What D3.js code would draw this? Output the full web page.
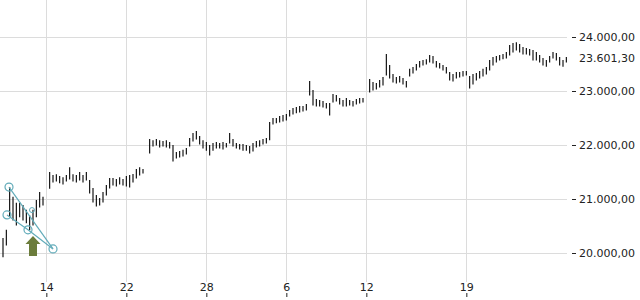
<!DOCTYPE html>
<html>
<head>
<meta charset="utf-8">
<script src="https://cdn.jsdelivr.net/npm/d3@7"></script>
<style>
  body { margin: 0; background: #fff; }
  #chart { width: 640px; height: 300px; }
  text { font-family: "DejaVu Sans", sans-serif; font-size: 11px; fill: #222; }
</style>
</head>
<body>
<div id="chart"></div>
<script>
// intraday bars, one per slot (null = no trading)
const lows = [
  19930, 20150, 20685, 20610, 20520, 20670, 20610, 20560, 20430, 20520, 20670, 20850, 20890, null,
  21200, 21315, 21335, 21300, 21280, 21335, 21370, 21335, 21315, 21350, 21315, 21350,
  21110, 20945, 20870, 20890, 20945, 21075, 21205, 21260, 21240, 21280, 21260, 21240, 21220, 21315, 21390, 21445, 21480, null,
  21850, 21980, 22000, 21965, 21980, 21965, 21945, 21705, 21760, 21780, 21795, 21835,
  21980, 22075, 22110, 22020, 21945, 21905, 21815, 21905, 21945, 21945, 21925, 21965, 22035, 21980, 21945, 21925, 21905, 21905, 21850, 21890, 21965, 21980, 22020, 22035, 22095,
  22390, 22410, 22425, 22445, 22465, 22535, 22575, 22595, 22610, 22630, 22650, 22925, 22740, 22720, 22720, 22705, 22685, 22555, 22795, 22815, 22760, 22720, 22720, 22740, 22720, 22760, 22780, 22795, null,
  22980, 23020, 23035, 23075, 23110, 23295, 23240, 23165, 23150, 23165, 23130, 23075,
  23280, 23335, 23390, 23445, 23480, 23500, 23535, 23520, 23445, 23425, 23390, 23335, 23205, 23185, 23240, 23260, 23280, 23295,
  23055, 23130, 23205, 23240, 23280, 23315, 23390, 23480, 23535, 23575, 23595, 23610, 23665, 23720, 23760, 23720, 23685, 23685, 23665, 23575, 23575, 23535, 23480, 23460, 23535, 23610, 23575, 23480, 23460, 23535
];
const highs = [
  20280, 20430, 21220, 21040, 20930, 20930, 20890, 20800, 20700, 20800, 20980, 21130, 21040, null,
  21500, 21445, 21460, 21425, 21405, 21445, 21590, 21460, 21445, 21500, 21445, 21500,
  21350, 21205, 21075, 21020, 21130, 21260, 21390, 21390, 21370, 21405, 21370, 21425, 21445, 21465, 21555, 21590, 21555, null,
  22110, 22090, 22110, 22090, 22075, 22090, 22055, 22000, 21870, 21890, 21910, 21945,
  22130, 22220, 22260, 22165, 22090, 22055, 22000, 22035, 22055, 22035, 22055, 22035, 22220, 22110, 22035, 22020, 22020, 22000, 21980, 22035, 22075, 22090, 22110, 22130, 22425,
  22500, 22500, 22535, 22555, 22575, 22650, 22685, 22705, 22720, 22720, 22760, 23185, 23020, 22850, 22835, 22815, 22780, 22780, 22945, 22925, 22870, 22835, 22870, 22835, 22815, 22850, 22870, 22870, null,
  23220, 23165, 23150, 23205, 23260, 23685, 23480, 23315, 23260, 23280, 23240, 23185,
  23410, 23445, 23500, 23555, 23575, 23590, 23665, 23650, 23555, 23520, 23480, 23445, 23350, 23315, 23350, 23350, 23370, 23370,
  23280, 23315, 23335, 23370, 23410, 23445, 23575, 23630, 23650, 23665, 23685, 23720, 23850, 23890, 23905, 23870, 23815, 23795, 23780, 23760, 23720, 23665, 23610, 23575, 23650, 23720, 23705, 23630, 23575, 23630
];
const lastPrice = 23601.30;

const yTicks = [20000, 21000, 22000, 23000, 24000];
const dayLabels = ['14', '22', '28', '6', '12', '19'];
const dayIndex = [13, 37, 61, 85, 109, 139];

// drawing tool: wedge lines (slot index, price) and a buy arrow
const wedgeUpper = [[1.8, 21220], [15.0, 20075]];
const wedgeLower = [[1.2, 20705], [7.5, 20430], [15.0, 20075]];
const wedgeHandle = [[8.7, 20795]];
const arrowAt = [9.0, 20315];

const svg = d3.select('#chart').append('svg')
  .attr('width', 640)
  .attr('height', 300);

const fmt = d3.formatLocale({decimal: ',', thousands: '.', grouping: [3], currency: ['', '']}).format(',.2f');

const x = d3.scaleLinear()
  .domain([0, lows.length - 1])
  .range([3, 3 + (lows.length - 1) * 80 / 24]);

const y = d3.scaleLinear()
  .domain([20000, 24000])
  .range([253, 37]);

const plotRight = 567;

// grid
svg.append('g').selectAll('line.h')
  .data(yTicks)
  .join('line')
    .attr('x1', 0).attr('x2', plotRight)
    .attr('y1', d => Math.round(y(d)) + 0.5)
    .attr('y2', d => Math.round(y(d)) + 0.5)
    .attr('stroke', '#dcdcdc');

svg.append('g').selectAll('line.v')
  .data(dayIndex)
  .join('line')
    .attr('x1', d => Math.round(x(d)) + 0.5)
    .attr('x2', d => Math.round(x(d)) + 0.5)
    .attr('y1', 0).attr('y2', 282)
    .attr('stroke', '#dcdcdc');

// right axis
const yAxis = svg.append('g').attr('transform', `translate(${plotRight + 5},0)`)
  .call(d3.axisRight(y).tickValues(yTicks).tickSize(4).tickPadding(3).tickFormat(fmt));
yAxis.select('.domain').remove();
yAxis.selectAll('.tick line').attr('stroke', '#222');

svg.append('text')
  .attr('x', plotRight + 12)
  .attr('y', y(lastPrice))
  .attr('dy', '0.32em')
  .text(fmt(lastPrice));

// bottom axis
const xAxis = svg.append('g').attr('transform', 'translate(0,293)')
  .call(d3.axisBottom(x).tickValues(dayIndex).tickSize(4).tickFormat((d, i) => dayLabels[i]));
xAxis.select('.domain').remove();
xAxis.selectAll('.tick line').attr('stroke', '#222');
xAxis.selectAll('.tick text').attr('y', -2).attr('dy', 0);

// bars
svg.append('g').selectAll('line')
  .data(lows.map((l, i) => ({i, l, h: highs[i]})).filter(d => d.l != null))
  .join('line')
    .attr('x1', d => x(d.i))
    .attr('x2', d => x(d.i))
    .attr('y1', d => y(d.h))
    .attr('y2', d => y(d.l) + 0.5)
    .attr('stroke', '#000')
    .attr('stroke-width', 1.1);

// annotation
const teal = '#63acba';
const line = d3.line().x(d => x(d[0])).y(d => y(d[1]));
const ann = svg.append('g');
[wedgeUpper, wedgeLower].forEach(pts => {
  ann.append('path').attr('d', line(pts)).attr('fill', 'none').attr('stroke', teal).attr('stroke-width', 1.2);
});
ann.selectAll('circle')
  .data(wedgeUpper.concat(wedgeLower.slice(0, 2)))
  .join('circle')
    .attr('cx', d => x(d[0])).attr('cy', d => y(d[1]))
    .attr('r', 4)
    .attr('fill', 'none')
    .attr('stroke', teal)
    .attr('stroke-width', 1.2);
ann.selectAll('rect')
  .data(wedgeHandle)
  .join('circle')
    .attr('cx', d => x(d[0])).attr('cy', d => y(d[1]))
    .attr('r', 2.5)
    .attr('fill', 'none')
    .attr('stroke', teal);

svg.append('path')
  .attr('transform', `translate(${x(arrowAt[0])},${y(arrowAt[1])})`)
  .attr('d', 'M0,0 L7.5,8 L4,8 L4,20 L-4,20 L-4,8 L-7.5,8 Z')
  .attr('fill', '#6b7c3b');
</script>
</body>
</html>
